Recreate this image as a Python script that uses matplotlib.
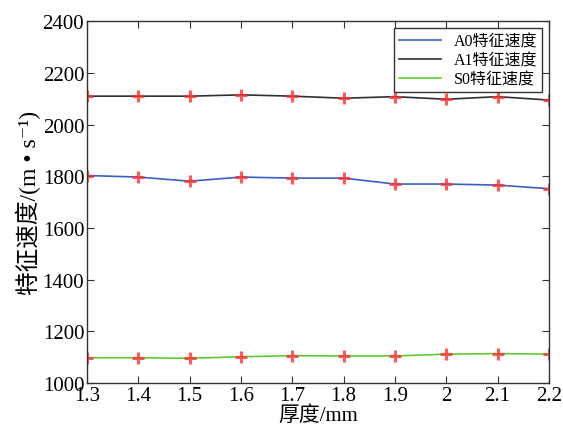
import numpy as np
import matplotlib.pyplot as plt

plt.rcParams['font.family'] = ['Liberation Serif', 'DejaVu Serif', 'Noto Sans CJK SC']

# data
thickness = [1.3, 1.4, 1.5, 1.6, 1.7, 1.8, 1.9, 2.0, 2.1, 2.2]
a0 = [1803, 1797, 1781, 1797, 1793, 1793, 1770, 1770, 1766, 1752]
a1 = [2110, 2110, 2110, 2115, 2110, 2102, 2108, 2098, 2108, 2095]
s0 = [1098, 1098, 1096, 1102, 1106, 1105, 1105, 1112, 1114, 1112]
xticks = [1.3, 1.4, 1.5, 1.6, 1.7, 1.8, 1.9, 2.0, 2.1, 2.2]
xlabels = ['1.3', '1.4', '1.5', '1.6', '1.7', '1.8', '1.9', '2', '2.1', '2.2']
yticks = [1000, 1200, 1400, 1600, 1800, 2000, 2200, 2400]

fig = plt.figure(figsize=(5.63, 4.35), dpi=100)
ax = fig.add_axes([0.1545, 0.117, 0.8205, 0.832])

ax.plot(thickness, a0, color='#3a5fc8', lw=1.2, label='A0特征速度')
ax.plot(thickness, a1, color='#303030', lw=1.2, label='A1特征速度')
ax.plot(thickness, s0, color='#5ccc30', lw=1.2, label='S0特征速度')
for s in (a0, a1, s0):
    ax.plot(thickness, s, ls='none', marker='+', ms=8, mew=2.2, color='#ff3030', alpha=0.8)

ax.set_xlim(1.3, 2.2)
ax.set_ylim(1000, 2400)
ax.set_xticks(xticks)
ax.set_xticklabels(xlabels)
ax.set_yticks(yticks)
ax.tick_params(direction='in', top=True, right=True, labelsize=15, length=5, pad=2, color='#333333')
for sp in ax.spines.values():
    sp.set_color('#333333')
    sp.set_linewidth(1.0)

ax.set_xlabel('厚度/mm', fontsize=15, labelpad=0)
ax.set_ylabel('特征速度/(m • s⁻¹)', fontsize=17, labelpad=1)

leg = ax.legend(loc='upper right', fontsize=11.5, fancybox=False, framealpha=1,
                edgecolor='#333333', handlelength=2.6, borderpad=0.3,
                labelspacing=0.2, borderaxespad=0.45)
leg.get_frame().set_linewidth(1.0)
leg.set_zorder(5)

fig.savefig('out.png', dpi=100)
